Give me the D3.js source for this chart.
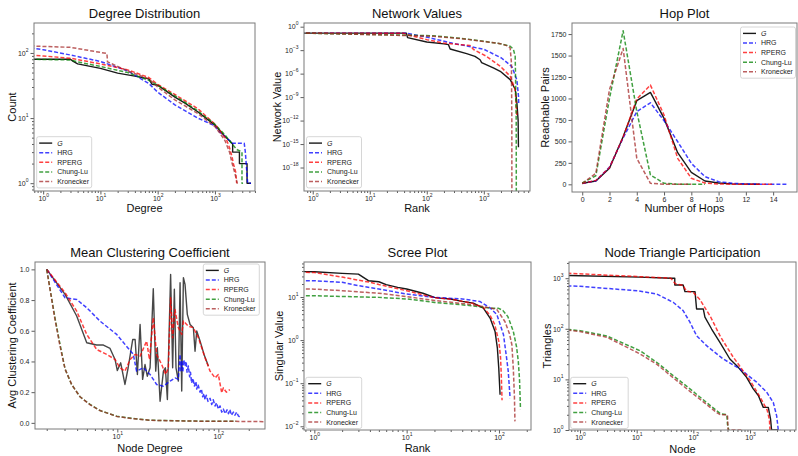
<!DOCTYPE html>
<html><head><meta charset="utf-8">
<script src="https://cdn.jsdelivr.net/npm/d3@7"></script>
<style>
body{margin:0;background:#fff;}
svg{font-family:"Liberation Sans",Arial,Helvetica,sans-serif;}
</style></head><body>
<svg id="chart" width="798" height="456"></svg>
<script>
const seriesNames = ["G","HRG","RPERG","Chung-Lu","Kronecker"];

// ---- Degree Distribution: [degree, count]
const degG  = [[0.6,80],[3,80],[3.3,75],[4,68],[10,58],[20,49],[40,44],[70,40],[80,33],[100,32],[200,21],[300,17],[500,12.5],[1000,7.8],[1300,6],[1500,5.2],[1800,4.5],[2040,4],[2040,3],[2680,3],[2680,2],[3640,2],[3640,1],[4270,1]];
const degHRG= [[0.6,120],[1,112],[3,93],[10,74],[30,53],[70,34],[100,25],[200,16],[500,10],[1000,7.6],[1190,6.2],[2040,4.1],[3250,4.1],[3400,3],[3730,1],[4270,1]];
const degRP = [[0.6,92],[1,90],[3,83],[10,68],[30,55],[70,42],[100,33],[200,23],[500,14],[1000,8.1],[1300,6],[1600,4.6],[1800,3.5],[2000,2.5],[2100,2],[2300,1.5],[2400,1]];
const degCL = [[0.6,80],[3,78],[4,73],[10,62],[30,50],[70,38],[100,32],[200,22],[500,13],[1000,8],[1500,5.5],[2000,4],[2400,3.3],[2970,3],[2970,1],[3100,1]];
const degKr = [[0.6,128],[3,122],[10,102],[13,98],[13.3,73],[30,53],[70,40],[100,30],[200,19],[500,11.8],[1000,7.4],[1200,6],[1500,4.5],[1800,3],[2000,2],[2200,1.5],[2450,1],[2700,1]];
const degXTicks = [1,10,100,1000];
const degYTicks = [1,10,100];

// ---- Network Values: [rank, value]
const nvG  = [[0.6,0.15],[44,0.15],[46,0.04],[100,0.011],[200,0.0063],[240,0.005],[257,0.0014],[500,3.6e-4],[700,1.6e-4],[860,6e-5],[915,2.5e-5],[1500,5e-6],[1940,2e-6],[2900,1.7e-7],[3550,1e-8],[3800,2e-10],[4000,1e-12],[4050,4e-16]];
const nvHRG= [[0.6,0.15],[45,0.14],[102,0.044],[275,0.008],[1000,0.0013],[2040,1e-4],[3100,8e-6],[3800,1.6e-7],[4060,1.3e-9],[4100,1e-10]];
const nvRP = [[0.6,0.15],[40,0.14],[45,0.1],[100,0.022],[195,0.0083],[575,0.0038],[660,0.0012],[1100,1.7e-4],[1940,8.7e-6],[2900,4.7e-7],[3550,9e-9],[3800,4e-12]];
const nvCL = [[0.6,0.15],[130,0.07],[500,0.027],[1940,0.0068],[2900,0.0032],[3300,0.0013],[3550,1.7e-4],[3650,1e-9],[3700,1e-12],[3720,1e-25]];
const nvKr = [[0.6,0.16],[130,0.06],[500,0.025],[1940,0.0068],[2530,0.0038],[2900,0.0019],[3050,2.5e-5],[3100,1e-12],[3110,1e-25]];
const nvXTicks = [1,10,100,1000];
const nvYTicks = [1,1e-3,1e-6,1e-9,1e-12,1e-15,1e-18];

// ---- Hop Plot: reachable pairs per hop (index = hops)
const hopG  = [12,39,186,555,974,1071,768,369,140,39,15,5,2,1];
const hopHRG= [10,40,200,540,846,950,741,497,245,89,31,12,5,2,1,0.5];
const hopRP = [10,45,195,550,993,1156,807,303,70,15,4,1,0.5,0.2,0];
const hopCL = [15,100,1000,1789,850,109,12,1,0,0];
const hopKr = [10,128,1106,1583,303,12,1,0,0];
const hopXTicks = [0,2,4,6,8,10,12,14];
const hopYTicks = [0,250,500,750,1000,1250,1500,1750];

// ---- Mean Clustering Coefficient: [degree, avg cc]
const ccG  = [[2,1.0],[3.04,0.837],[3.96,0.696],[4.98,0.522],[6.25,0.507],[7.28,0.507],[8.47,0.485],[9.49,0.413],[10,0.341],[10.8,0.391],[11.9,0.25],[12.8,0.359],[14.2,0.543],[15,0.543],[15.8,0.315],[16.8,0.641],[17.8,0.283],[18.8,0.38],[19.8,0.304],[21.1,0.359],[22.7,0.874],[24,0.337],[24.9,0.489],[26.5,0.141],[28.6,0.337],[29.9,0.359],[31.3,0.152],[33.7,0.967],[35.3,0.359],[36.7,0.87],[38.1,0.359],[40.2,0.272],[41.8,0.913],[43.4,0.207],[45.1,0.946],[46.8,0.902],[49.3,0.707],[52.5,0.641],[56.6,0.62],[58.8,0.467],[61.1,0.598],[65.9,0.533],[72.2,0.446],[79.7,0.37]];
const ccHRG= [[2,1.0],[3.04,0.815],[3.96,0.804],[4.98,0.75],[6.74,0.663],[9.86,0.576],[14.4,0.446],[15.5,0.337],[18.1,0.359],[21.1,0.315],[24.5,0.25],[28.6,0.239],[33.3,0.272],[37.3,0.293],[40.2,0.283],[41.8,0.446],[42.5,0.34],[43.4,0.40],[44.5,0.33],[45.5,0.41],[46.8,0.37],[48,0.40],[49,0.33],[50.5,0.37],[52,0.30],[53,0.33],[54.4,0.26],[56,0.29],[58,0.24],[60,0.27],[61.1,0.22],[63,0.25],[65.9,0.20],[68,0.22],[70,0.17],[72,0.19],[73.8,0.15],[76,0.18],[79,0.14],[82.8,0.16],[86,0.12],[89,0.15],[92.9,0.11],[96,0.13],[100,0.09],[104,0.11],[108,0.07],[112,0.09],[117,0.06],[122,0.085],[126,0.06],[130,0.087],[135,0.05],[141,0.07],[146,0.05],[152,0.07],[158,0.045],[164,0.037]];
const ccRP = [[2,1.0],[3.04,0.848],[3.96,0.728],[4.98,0.576],[6.25,0.478],[7.85,0.446],[9.49,0.413],[10.6,0.359],[11.9,0.337],[13.4,0.413],[15,0.446],[16.8,0.435],[19.5,0.533],[20.8,0.413],[22.7,0.685],[24.5,0.446],[27.5,0.38],[30.1,0.315],[32,0.359],[33.7,0.815],[35.3,0.554],[37.2,0.739],[40.2,0.62],[43.4,0.576],[45.1,0.663],[50.5,0.63],[56.6,0.62],[63.5,0.554],[73.8,0.424],[82.8,0.337],[92.9,0.293],[100,0.315],[108,0.196],[112,0.228],[120,0.2],[130,0.217]];
const ccCL = [[2,1.0],[2.42,0.68],[2.71,0.51],[3.04,0.35],[3.53,0.25],[4.27,0.17],[5.37,0.12],[6.75,0.08],[9.86,0.043],[14.4,0.028],[21.1,0.017],[30.8,0.015],[66,0.011],[150,0.01]];
const ccKr = [[2,1.0],[2.42,0.67],[2.71,0.50],[3.04,0.35],[3.53,0.25],[4.27,0.17],[5.37,0.118],[6.75,0.08],[9.86,0.042],[14.4,0.027],[21.1,0.017],[30.8,0.014],[66,0.011],[141,0.01],[280,0.008]];
const ccXTicks = [10,100];
const ccYTicks = [0,0.2,0.4,0.6,0.8,1.0];

// ---- Scree Plot: [rank, singular value]
const scG  = [[0.6,39],[1,38.6],[2,35.3],[3,34],[3.85,23.9],[5,22.6],[6,19.3],[8,16.7],[10,15.3],[15,12.2],[20,9.8],[23,9.4],[30,9],[40,7.9],[52.8,7.2],[67.8,5.5],[80.1,3.24],[90.7,1.59],[96.1,0.65],[99.5,0.224],[102.8,0.054]];
const scHRG= [[0.6,24],[1,23.8],[2,21.9],[3,18.3],[5,15.3],[10,11.7],[20,9.8],[40,9],[62,7.9],[80,5.6],[95,3.9],[112,1.33],[121,0.38],[126,0.19],[132,0.045]];
const scRP = [[0.6,38],[1,37],[2,29],[3,24.5],[4,22],[5,19.5],[10,14],[20,9.6],[30,8.9],[50,7.3],[68,5.7],[80,3.8],[90,2.3],[100,0.9],[104,0.4],[106,0.15],[108,0.04]];
const scCL = [[0.6,10.8],[1,10.7],[5,9.8],[10,9],[20,7.5],[50,6.3],[80,5.5],[98,5.5],[110,4.9],[125,3.5],[143,1.6],[155,0.7],[162,0.32],[167,0.12],[170,0.038],[171,0.025]];
const scKr = [[0.6,15.5],[1,15.2],[2,14],[5,12.2],[10,10.2],[20,8.3],[50,6.7],[80,5.6],[95,5.1],[116,2.7],[130,1.4],[138,0.78],[143,0.22],[147,0.05],[149,0.013]];
const scXTicks = [1,10,100];
const scYTicks = [0.01,0.1,1,10];

// ---- Node Triangle Participation: [node rank, triangles]
const ntG  = [[0.6,1130],[11,1050],[41,995],[47,995],[47,735],[66,735],[71,543],[107,543],[114,246],[150,246],[160,170],[210,99],[294,54],[441,25.3],[621,17.3],[870,11],[1140,6.5],[1400,4.8],[1714,2.8],[2100,2.8],[2300,1.66],[2400,1],[3150,1]];
const ntHRG= [[0.6,705],[1,690],[2,650],[5,600],[11,560],[22.5,487],[44,334],[66,229],[87,135],[114,73],[171,46.5],[337,25.3],[664,16.1],[1306,8.8],[1964,5.6],[2573,3.5],[2950,1.9],[3150,1],[3400,1]];
const ntRP = [[0.6,1250],[10,1080],[40,1000],[48,780],[66,720],[75,560],[100,520],[130,380],[200,175],[300,70],[500,28],[1000,9.5],[1500,4.5],[2000,2.5],[2200,1.6],[2250,1]];
const ntCL = [[0.6,97],[1,92],[3,72],[11.4,37],[22.5,21.8],[44,11.9],[87,6.5],[171,3.5],[258,2.4],[300,2.1],[390,2],[400,1.3],[420,1]];
const ntKr = [[0.6,95],[1,88],[3,68],[11.4,32],[22.5,20],[44,10.8],[87,5.8],[171,3.2],[258,2.2],[300,2],[400,2],[410,1],[700,1]];
const ntXTicks = [1,10,100,1000];
const ntYTicks = [1,10,100,1000];

// ---------------- drawing ----------------
const svg = d3.select("#chart");
const styles = [
  {color:"#000000", dash:null,  width:1.4, opacity:0.9},
  {color:"#0000ff", dash:"4,2", width:1.5, opacity:0.75},
  {color:"#ff0000", dash:"4,2", width:1.5, opacity:0.75},
  {color:"#008000", dash:"4,2", width:1.5, opacity:0.75},
  {color:"#a52a2a", dash:"4,2", width:1.5, opacity:0.75}
];
const hopPairs = arr => arr.map((v,i)=>[i,v]);

const panels = [
  {title:"Degree Distribution", xl:"Degree", yl:"Count", x0:34,x1:255,y0:23,y1:191,
   xlog:true, ylog:true, xdom:[10**-0.16,10**3.7], ydom:[10**-0.12,10**2.46],
   xt:degXTicks, yt:degYTicks, xminor:true, yminor:true,
   series:[degG,degHRG,degRP,degCL,degKr], leg:[36.7,136.7,55], ylx:16, xly:212, ty:17.5},
  {title:"Network Values", xl:"Rank", yl:"Network Value", x0:304,x1:530,y0:23,y1:191,
   xlog:true, ylog:true, xdom:[10**-0.153,10**3.81], ydom:[1e-21,10**0.47],
   xt:nvXTicks, yt:nvYTicks, xminor:true, yminor:false,
   series:[nvG,nvHRG,nvRP,nvCL,nvKr], leg:[306.5,136.7,55], ylx:281, xly:212, ty:17.5},
  {title:"Hop Plot", xl:"Number of Hops", yl:"Reachable Pairs", x0:572,x1:797,y0:23,y1:192,
   xlog:false, ylog:false, xdom:[-0.75,15.75], ydom:[-89.5,1879],
   xt:hopXTicks, yt:hopYTicks, xfmt:d3.format("d"), yfmt:d3.format("d"),
   series:[hopPairs(hopG),hopPairs(hopHRG),hopPairs(hopRP),hopPairs(hopCL),hopPairs(hopKr)],
   leg:[740.5,27,55], ylx:549, xly:212, ty:17.5},
  {title:"Mean Clustering Coefficient", xl:"Node Degree", yl:"Avg Clustering Coefficient", x0:35,x1:265,y0:262,y1:429,
   xlog:true, ylog:false, xdom:[10**0.185,10**2.462], ydom:[-0.04,1.048],
   xt:ccXTicks, yt:ccYTicks, xminor:true, yfmt:d3.format(".1f"), gOpacity:0.72,
   series:[ccG,ccHRG,ccRP,ccCL,ccKr], leg:[203.3,264,56], ylx:16, xly:451.5, ty:257},
  {title:"Scree Plot", xl:"Rank", yl:"Singular Value", x0:304,x1:531,y0:262,y1:430,
   xlog:true, ylog:true, xdom:[10**-0.112,10**2.347], ydom:[10**-2.086,10**1.812],
   xt:scXTicks, yt:scYTicks, xminor:true, yminor:true,
   series:[scG,scHRG,scRP,scCL,scKr], leg:[305.7,377.3,56], ylx:283, xly:452, ty:257},
  {title:"Node Triangle Participation", xl:"Node", yl:"Triangles", x0:569,x1:796,y0:262,y1:430,
   xlog:true, ylog:true, xdom:[10**-0.194,10**3.811], ydom:[1,10**3.32],
   xt:ntXTicks, yt:ntYTicks, xminor:true, yminor:true,
   series:[ntG,ntHRG,ntRP,ntCL,ntKr], leg:[570.7,377.3,57.5], ylx:550.5, xly:452.5, ty:257}
];

function minorTicks(dom){
  const out=[]; const lo=Math.floor(Math.log10(dom[0])), hi=Math.ceil(Math.log10(dom[1]));
  for(let k=lo;k<=hi;k++) for(let m=2;m<=9;m++){ const v=m*Math.pow(10,k); if(v>=dom[0]&&v<=dom[1]) out.push(v); }
  return out;
}
function supLabels(sel){
  sel.selectAll(".tick text").each(function(d){
    const e=Math.round(Math.log10(d)); const t=d3.select(this);
    t.text(null);
    t.append("tspan").text("10");
    t.append("tspan").attr("font-size","5px").attr("dy","-0.8em").text(e<0?"\u2212"+(-e):String(e));
  });
}
function styleAxis(sel){
  sel.select(".domain").remove();
  sel.selectAll(".tick line").attr("stroke","#333").attr("stroke-width",0.8);
  sel.selectAll(".tick text").attr("font-size","7px").attr("fill","#262626")
     .attr("font-family","'Liberation Sans',Arial,sans-serif");
}

panels.forEach((p,pi)=>{
  const g = svg.append("g");
  const x = (p.xlog?d3.scaleLog():d3.scaleLinear()).domain(p.xdom).range([p.x0,p.x1]);
  const y = (p.ylog?d3.scaleLog():d3.scaleLinear()).domain(p.ydom).range([p.y1,p.y0]);
  const cid = "clip"+pi;
  svg.append("clipPath").attr("id",cid).append("rect")
     .attr("x",p.x0).attr("y",p.y0).attr("width",p.x1-p.x0).attr("height",p.y1-p.y0);

  const line = d3.line().x(d=>x(d[0])).y(d=>y(p.ylog && d[1]<=0 ? 1e-30 : d[1]));
  const lg = g.append("g").attr("clip-path",`url(#${cid})`);
  p.series.forEach((data,i)=>{
    const st = styles[i];
    const op = (i===0 && p.gOpacity) ? p.gOpacity : st.opacity;
    lg.append("path").datum(data).attr("d",line)
      .attr("fill","none").attr("stroke",st.color).attr("stroke-width",st.width)
      .attr("stroke-opacity",op).attr("stroke-dasharray",st.dash)
      .attr("stroke-linejoin","round");
  });

  // axes
  const xa = g.append("g").attr("transform",`translate(0,${p.y1})`)
    .call(d3.axisBottom(x).tickValues(p.xt).tickSize(3.5).tickPadding(2).tickFormat(p.xfmt||(d=>d)));
  styleAxis(xa); if(p.xlog) supLabels(xa);
  if(p.xminor){
    const xm = g.append("g").attr("transform",`translate(0,${p.y1})`)
      .call(d3.axisBottom(x).tickValues(minorTicks(p.xdom)).tickSize(2).tickFormat(""));
    styleAxis(xm);
  }
  const ya = g.append("g").attr("transform",`translate(${p.x0},0)`)
    .call(d3.axisLeft(y).tickValues(p.yt).tickSize(3.5).tickPadding(2).tickFormat(p.yfmt||(d=>d)));
  styleAxis(ya); if(p.ylog) supLabels(ya);
  if(p.yminor){
    const ym = g.append("g").attr("transform",`translate(${p.x0},0)`)
      .call(d3.axisLeft(y).tickValues(minorTicks(p.ydom)).tickSize(2).tickFormat(""));
    styleAxis(ym);
  }

  // frame
  g.append("rect").attr("x",p.x0).attr("y",p.y0).attr("width",p.x1-p.x0).attr("height",p.y1-p.y0)
   .attr("fill","none").attr("stroke","#7a7a7a").attr("stroke-width",1);

  // titles & labels
  g.append("text").attr("x",(p.x0+p.x1)/2).attr("y",p.ty).attr("text-anchor","middle")
   .attr("font-size","13px").attr("fill","#111").text(p.title);
  g.append("text").attr("x",(p.x0+p.x1)/2).attr("y",p.xly).attr("text-anchor","middle")
   .attr("font-size","11px").attr("fill","#111").text(p.xl);
  g.append("text").attr("transform",`translate(${p.ylx},${(p.y0+p.y1)/2}) rotate(-90)`)
   .attr("text-anchor","middle").attr("font-size","11px").attr("fill","#111").text(p.yl);

  // legend
  const [lx,ly,lw] = p.leg; const rowH = 9.6, lh = 6.4*2 + 4*rowH;
  const L = g.append("g");
  L.append("rect").attr("x",lx).attr("y",ly).attr("width",lw).attr("height",lh).attr("rx",2)
   .attr("fill","#fff").attr("fill-opacity",0.85).attr("stroke","#cccccc").attr("stroke-width",0.8);
  seriesNames.forEach((nm,i)=>{
    const st = styles[i]; const yy = ly + 6.4 + i*rowH;
    L.append("line").attr("x1",lx+2.5).attr("x2",lx+15.5).attr("y1",yy).attr("y2",yy)
     .attr("stroke",st.color).attr("stroke-width",st.width).attr("stroke-opacity",st.opacity)
     .attr("stroke-dasharray",st.dash);
    L.append("text").attr("x",lx+20.5).attr("y",yy).attr("dy","0.35em").attr("font-size","7px")
     .attr("fill","#222").attr("font-style",i===0?"italic":null).text(nm);
  });
});
</script>
</body></html>
